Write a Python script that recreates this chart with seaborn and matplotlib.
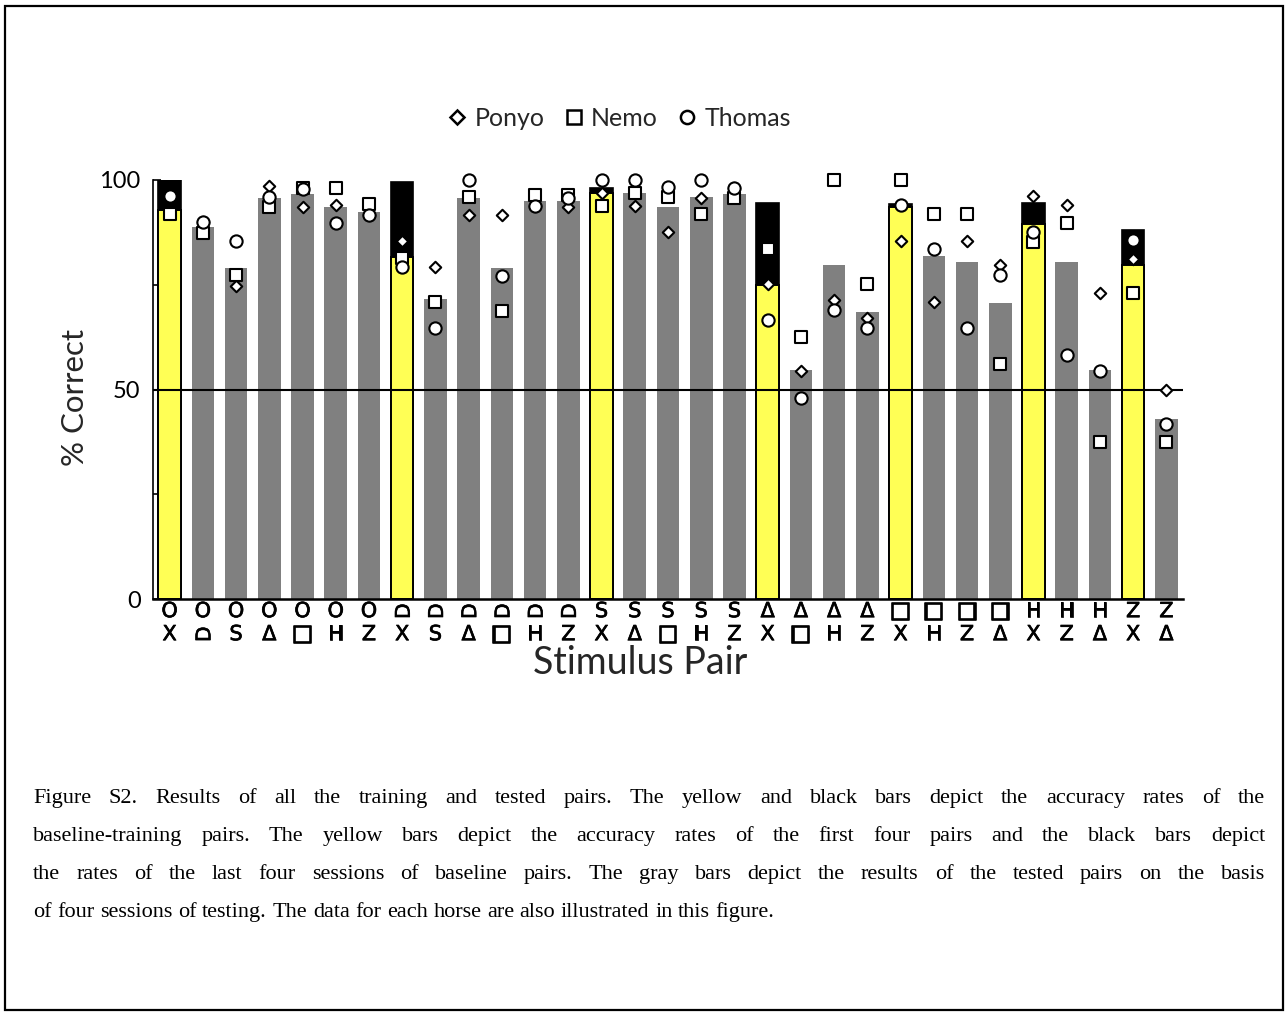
import numpy as np
import pandas as pd
import matplotlib
matplotlib.use("Agg")
import matplotlib.pyplot as plt
import matplotlib.transforms as mtransforms
import matplotlib.patheffects as pe
from matplotlib.lines import Line2D
from matplotlib.patches import Rectangle
import seaborn as sns

# Stimulus pairs (upper and lower symbol of each pair); "D" is the dome shape
first_stim = ["O", "O", "O", "O", "O", "O", "O",
              "D", "D", "D", "D", "D", "D",
              "S", "S", "S", "S", "S",
              "Δ", "Δ", "Δ", "Δ",
              "□", "□", "□", "□",
              "H", "H", "H",
              "Z", "Z"]
second_stim = ["X", "D", "S", "Δ", "□", "H", "Z",
               "X", "S", "Δ", "□", "H", "Z",
               "X", "Δ", "□", "H", "Z",
               "X", "□", "H", "Z",
               "X", "H", "Z", "Δ",
               "X", "Z", "Δ",
               "X", "Δ"]
baseline_pair = [True, False, False, False, False, False, False,
                 True, False, False, False, False, False,
                 True, False, False, False, False,
                 True, False, False, False,
                 True, False, False, False,
                 True, False, False,
                 True, False]

# Group accuracy: first four sessions (baseline) or the four test sessions
first_sessions = [92.8, 88.9, 78.9, 95.8, 96.6, 93.6, 92.4,
                  81.7, 71.5, 95.8, 78.9, 95.1, 95.1,
                  96.8, 96.8, 93.6, 95.9, 96.7,
                  74.9, 54.7, 79.7, 68.6,
                  93.6, 81.9, 80.5, 70.7,
                  89.4, 80.5, 54.7,
                  79.7, 42.9]
# Last four sessions of the baseline pairs
last_sessions = [100, None, None, None, None, None, None,
                 99.5, None, None, None, None, None,
                 98.0, None, None, None, None,
                 94.6, None, None, None,
                 94.3, None, None, None,
                 94.6, None, None,
                 88.1, None]

# Individual horses
ponyo = [96.2, 90.0, 74.7, 98.6, 93.6, 94.0, 91.6,
         85.4, 79.2, 91.6, 91.6, 93.8, 93.6,
         97.0, 93.8, 87.5, 95.8, 98.0,
         75.1, 54.3, 71.4, 67.0,
         85.4, 71.0, 85.4, 79.7,
         96.2, 94.0, 73.1,
         81.1, 50.0]
nemo = [92.0, 87.4, 77.3, 93.6, 98.0, 98.0, 94.2,
        81.3, 71.0, 95.9, 68.8, 96.4, 96.4,
        93.8, 96.8, 96.0, 91.8, 95.8,
        83.5, 62.6, 100.0, 75.2,
        100.0, 91.8, 91.8, 56.2,
        85.3, 89.7, 37.5,
        73.0, 37.5]
thomas = [96.2, 90.0, 85.5, 96.0, 97.8, 89.7, 91.6,
          79.2, 64.6, 100.0, 77.2, 93.8, 95.7,
          100.0, 100.0, 98.3, 100.0, 98.0,
          66.6, 47.9, 69.0, 64.6,
          94.0, 83.5, 64.6, 77.3,
          87.7, 58.2, 54.3,
          85.7, 41.7]

caption_lines = [
    "Figure S2. Results of all the training and tested pairs. The yellow and black bars depict the accuracy rates of the",
    "baseline-training pairs. The yellow bars depict the accuracy rates of the first four pairs and the black bars depict",
    "the rates of the last four sessions of baseline pairs. The gray bars depict the results of the tested pairs on the basis",
    "of four sessions of testing. The data for each horse are also illustrated in this figure.",
]

n = len(first_stim)
df = pd.DataFrame({
    "pos": np.arange(n),
    "first": first_sessions,
    "last": pd.array(last_sessions, dtype="Float64").astype(float),
    "baseline": baseline_pair,
    "Ponyo": ponyo, "Nemo": nemo, "Thomas": thomas,
})

sns.set_style("white")
plt.rcParams["font.family"] = ["Lato", "DejaVu Sans"]

YELLOW = "#FFFF55"
GRAY = "#808080"
BAR_W = 0.68

fig = plt.figure(figsize=(12.85, 10.14), dpi=100)
ax = fig.add_axes([153 / 1285, 1 - 599 / 1014, 1030 / 1285, 419 / 1014])
order = list(range(n))

base = df[df["baseline"]]
tested = df[~df["baseline"]]

# black: last four baseline sessions (drawn behind)
sns.barplot(data=base, x="pos", y="last", order=order, color="black",
            saturation=1, width=BAR_W, ax=ax, errorbar=None,
            edgecolor="black", linewidth=1.2, zorder=1)
# yellow: first four baseline sessions
sns.barplot(data=base, x="pos", y="first", order=order, color=YELLOW,
            saturation=1, width=BAR_W, ax=ax, errorbar=None,
            edgecolor="black", linewidth=1.4, zorder=2)
# gray: tested pairs
sns.barplot(data=tested, x="pos", y="first", order=order, color=GRAY,
            saturation=1, width=BAR_W, ax=ax, errorbar=None,
            linewidth=0, zorder=2)

ax.axhline(50, color="black", lw=1.5, zorder=3)

mk = dict(facecolor="white", edgecolor="black", linewidth=1.5,
          clip_on=False, legend=False, ax=ax)
sns.scatterplot(data=df, x="pos", y="Ponyo", marker="D", s=34, zorder=4, **mk)
sns.scatterplot(data=df, x="pos", y="Nemo", marker="s", s=72, zorder=5, **mk)
sns.scatterplot(data=df, x="pos", y="Thomas", marker="o", s=78, zorder=6, **mk)

ax.set_xlim(-0.5, n - 0.5)
ax.set_ylim(0, 100)
ax.set_yticks([0, 25, 50, 75, 100])
ax.set_yticklabels(["0", "", "50", "", "100"], fontsize=17)
ax.tick_params(axis="y", direction="in", length=6, width=1.2, pad=9,
               left=True, colors="black")
ax.set_xticks([])
for side in ("top", "right"):
    ax.spines[side].set_visible(False)
ax.spines["left"].set_linewidth(1.2)
ax.spines["bottom"].set_linewidth(1.8)
ax.spines["left"].set_color("black")
ax.spines["bottom"].set_color("black")

ax.set_ylabel("% Correct", fontsize=22.5, va="center", ha="center",
              rotation_mode="default")
ax.yaxis.set_label_coords(-0.0757, 0.482)
ax.set_xlabel("Stimulus Pair", fontsize=27, va="center", ha="center")
ax.xaxis.set_label_coords(0.473, -0.152)

# two-row symbol labels under each bar
trans = mtransforms.blended_transform_factory(ax.transData, ax.transAxes)
bold = [pe.withStroke(linewidth=0.5, foreground="black")]
bolder = [pe.withStroke(linewidth=1.2, foreground="black")]
for i in range(n):
    for sym, yy in ((first_stim[i], -0.029), (second_stim[i], -0.084)):
        common = dict(transform=trans, family=["DejaVu Sans"], clip_on=False,
                      color="black")
        if sym == "D":
            ax.text(i, yy, "D", rotation=90, rotation_mode="anchor",
                    ha="center", va="center_baseline", fontsize=14.5,
                    path_effects=bold, **common)
        elif sym == "□":
            ax.text(i, yy, "□", ha="center", va="center", fontsize=16,
                    path_effects=bolder, **common)
        else:
            ax.text(i, yy, sym, ha="center", va="center", fontsize=15,
                    path_effects=bold, **common)

# legend of horses
handles = [
    Line2D([], [], ls="none", marker="D", ms=7, mfc="white", mec="black", mew=1.8),
    Line2D([], [], ls="none", marker="s", ms=10.5, mfc="white", mec="black", mew=1.8),
    Line2D([], [], ls="none", marker="o", ms=9.5, mfc="white", mec="black", mew=1.8),
]
fig.legend(handles, ["Ponyo", "Nemo", "Thomas"], loc="center", ncol=3,
           bbox_to_anchor=(619 / 1285, 1 - 118 / 1014), frameon=False,
           fontsize=18, handlelength=0.8, handletextpad=0.3,
           columnspacing=0.75)

# caption, justified except for the final line
cap_props = dict(fontsize=16.0, family=["Liberation Serif"], color="black")
renderer = fig.canvas.get_renderer()


def text_width(s):
    t = fig.text(0, 0, s, **cap_props)
    w = t.get_window_extent(renderer).width
    t.remove()
    return w


x_left, x_right = 33, 1265
space_w = text_width("a a") - text_width("aa")
for li, line in enumerate(caption_lines):
    y = 1 - (803 + 38 * li) / 1014
    words = line.split(" ")
    widths = [text_width(w) for w in words]
    if li < len(caption_lines) - 1:
        gap = (x_right - x_left - sum(widths)) / (len(words) - 1)
    else:
        gap = space_w
    x = x_left
    for w, wd in zip(words, widths):
        fig.text(x / 1285, y, w, ha="left", va="baseline", **cap_props)
        x += wd + gap

# outer frame
fig.patches.append(Rectangle((5 / 1285, 4 / 1014), 1278 / 1285, 1004 / 1014,
                             transform=fig.transFigure, fill=False,
                             edgecolor="black", linewidth=1.6))

fig.savefig("out.png", dpi=100)
